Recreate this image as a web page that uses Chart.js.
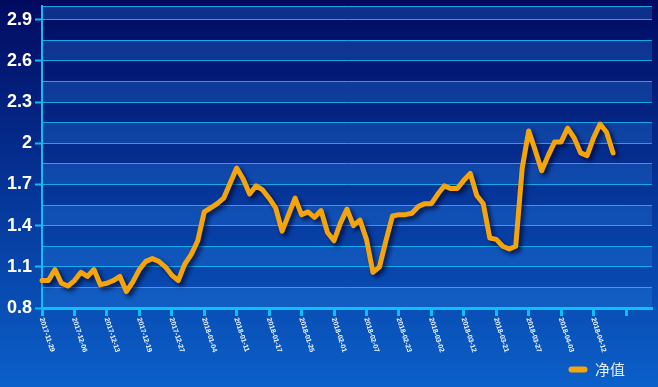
<!DOCTYPE html>
<html><head><meta charset="utf-8">
<script src="https://cdn.jsdelivr.net/npm/chart.js@4/dist/chart.umd.min.js"></script>
<style>
html,body{margin:0;padding:0;}
body{width:658px;height:387px;overflow:hidden;background:#0a3a9a;}
</style></head><body><canvas id="c" width="658" height="387"></canvas>
<script>
const tickLabels = ["2017-11-29","2017-12-06","2017-12-13","2017-12-19","2017-12-27","2018-01-04","2018-01-11","2018-01-17","2018-01-25","2018-02-01","2018-02-07","2018-02-23","2018-03-02","2018-03-12","2018-03-21","2018-03-27","2018-04-03","2018-04-12"];
const navValues = [1.00,1.00,1.08,0.98,0.96,1.00,1.06,1.03,1.08,0.97,
  0.98,1.00,1.03,0.92,0.99,1.08,1.14,1.16,1.14,1.10,
  1.04,1.00,1.12,1.19,1.29,1.50,1.53,1.56,1.60,1.71,
  1.82,1.74,1.63,1.69,1.66,1.60,1.53,1.36,1.48,1.60,
  1.48,1.50,1.46,1.51,1.35,1.29,1.42,1.52,1.40,1.44,
  1.30,1.06,1.10,1.29,1.47,1.48,1.48,1.49,1.54,1.56,
  1.56,1.63,1.69,1.67,1.67,1.73,1.78,1.62,1.56,1.31,
  1.30,1.25,1.23,1.25,1.82,2.09,1.95,1.80,1.91,2.01,
  2.01,2.11,2.04,1.93,1.91,2.04,2.14,2.08,1.93];
const yTickValues = [0.8,0.95,1.1,1.25,1.4,1.55,1.7,1.85,2.0,2.15,2.3,2.45,2.6,2.75,2.9,3.0];
const seriesName = '净值';
const categoryCount = 95;
const categories = Array.from({length: categoryCount}, (_, i) => (i % 5 === 0 && tickLabels[i / 5]) ? tickLabels[i / 5] : '');

const ORANGE = '#f5a40c';
const CYAN = '#0cc0f5';
const GRID = 'rgba(20,190,250,0.85)';

const bgPlugin = {
  id: 'bg',
  afterLayout(chart) {
    const lg = chart.legend;
    if (lg) { lg.left -= 17; lg.right -= 17; }
  },
  beforeDraw(chart) {
    const {ctx, width, height, chartArea, scales} = chart;
    ctx.save();
    const g = ctx.createLinearGradient(0, 0, 0, height);
    g.addColorStop(0, '#020a60');
    g.addColorStop(0.55, '#063a9e');
    g.addColorStop(1, '#0b60c9');
    ctx.fillStyle = g;
    ctx.fillRect(0, 0, width, height);
    const ys = scales.y;
    ctx.fillStyle = 'rgba(40,130,230,0.3)';
    for (let i = 0; i < ys.ticks.length - 1; i += 2) {
      const y0 = ys.getPixelForValue(ys.ticks[i].value);
      const y1 = ys.getPixelForValue(ys.ticks[i + 1].value);
      ctx.fillRect(chartArea.left, y1, chartArea.right - chartArea.left, y0 - y1);
    }
    ctx.restore();
  },
  beforeDatasetDraw(chart) {
    const ctx = chart.ctx;
    ctx.save();
    ctx.shadowColor = 'rgba(0,8,50,0.75)';
    ctx.shadowBlur = 4;
    ctx.shadowOffsetX = 3;
    ctx.shadowOffsetY = 3;
  },
  afterDatasetDraw(chart) {
    chart.ctx.restore();
  },
  afterDraw(chart) {
    const {ctx, scales} = chart;
    const xs = scales.x;
    ctx.save();
    ctx.fillStyle = '#f2f6ff';
    ctx.font = 'bold 7px "Liberation Sans", Arial, sans-serif';
    ctx.textAlign = 'left';
    ctx.textBaseline = 'middle';
    tickLabels.forEach((lab, k) => {
      const x = xs.getPixelForValue(k * 5);
      ctx.save();
      ctx.translate(x - 0.5, xs.top + 10);
      ctx.rotate(72 * Math.PI / 180);
      ctx.fillText(lab, 0, 0);
      ctx.restore();
    });
    ctx.restore();
  }
};

new Chart(document.getElementById('c'), {
  type: 'line',
  data: {
    labels: categories,
    datasets: [{
      label: seriesName,
      data: navValues,
      borderColor: ORANGE,
      backgroundColor: ORANGE,
      borderWidth: 5,
      tension: 0,
      pointRadius: 0,
      pointHoverRadius: 0,
      borderJoinStyle: 'round',
      borderCapStyle: 'round',
      fill: false,
      clip: false
    }]
  },
  options: {
    responsive: false,
    animation: false,
    devicePixelRatio: 1,
    layout: {padding: {top: 6, right: 6, left: 0, bottom: 0}},
    plugins: {
      tooltip: {enabled: false},
      legend: {
        position: 'bottom',
        align: 'end',
        labels: {
          boxWidth: 19,
          boxHeight: 6,
          useBorderRadius: true,
          borderRadius: 3,
          color: '#e6edf8',
          font: {size: 15, family: '"Noto Sans CJK SC", sans-serif'},
          padding: 10,
          generateLabels() {
            return [{text: seriesName, fillStyle: ORANGE, strokeStyle: ORANGE, lineWidth: 0, borderRadius: 3, fontColor: '#e6edf8', hidden: false, datasetIndex: 0}];
          }
        }
      }
    },
    scales: {
      x: {
        type: 'category',
        offset: false,
        grid: {
          drawOnChartArea: false,
          drawTicks: true,
          offset: false,
          tickLength: 8,
          tickWidth: 3,
          tickColor: (c) => (c.index % 5 === 0 && c.index <= 90) ? CYAN : 'rgba(0,0,0,0)'
        },
        border: {color: CYAN, width: 3},
        ticks: {display: false, autoSkip: false},
        afterFit(s) { s.height = 44; s.paddingLeft = 0; s.paddingRight = 0; }
      },
      y: {
        min: 0.8,
        max: 3.0,
        afterBuildTicks(s) { s.ticks = yTickValues.map(v => ({value: v})); },
        grid: {
          color: GRID,
          lineWidth: 1,
          tickLength: 7,
          tickWidth: 2,
          tickColor: (c) => (c.index % 2 === 0 && c.index < 15) ? CYAN : 'rgba(0,0,0,0)'
        },
        border: {color: CYAN, width: 2},
        ticks: {
          color: '#ffffff',
          padding: 3,
          autoSkip: false,
          font: {size: 18, weight: 'bold', family: '"Liberation Sans", Arial, sans-serif'},
          callback: (v, i) => (i % 2 === 0 && i < 15) ? String(v) : ''
        },
        afterFit(s) { s.width = 42; s.paddingTop = 0; s.paddingBottom = 0; }
      }
    }
  },
  plugins: [bgPlugin]
});
</script></body></html>
